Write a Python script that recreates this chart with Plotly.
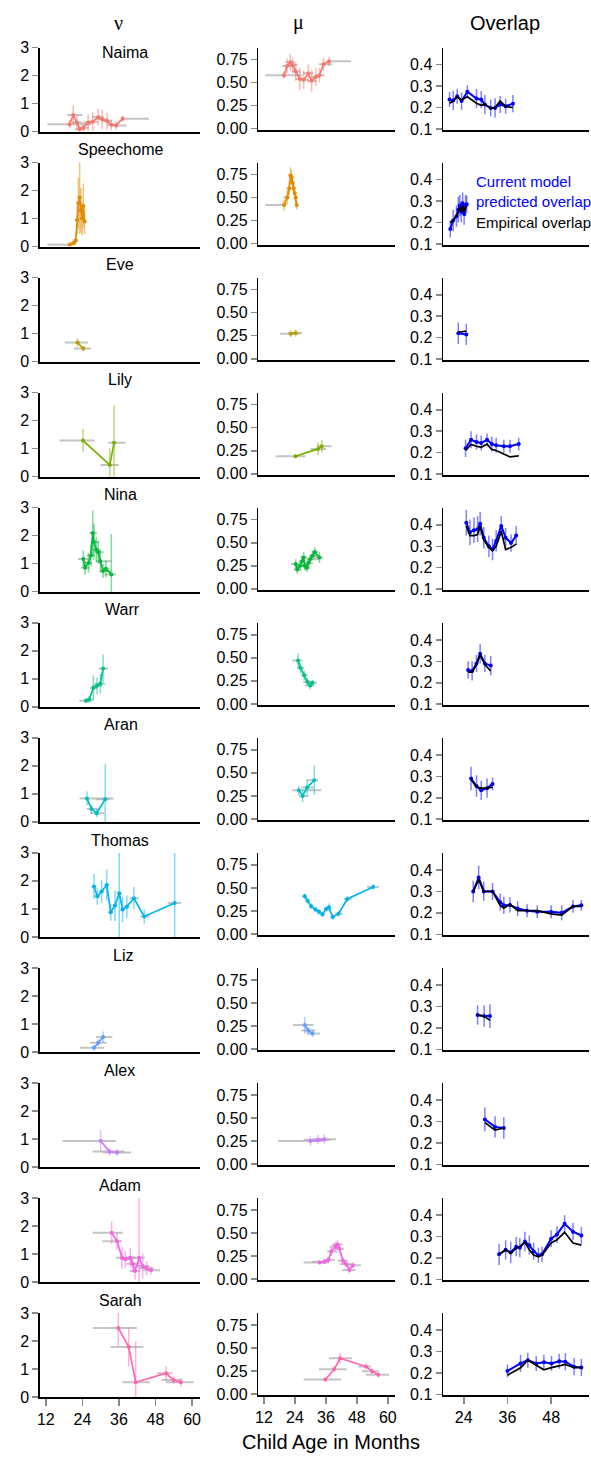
import plotly.graph_objects as go

# ---------------- data ----------------
children = ["Naima", "Speechome", "Eve", "Lily", "Nina", "Warr", "Aran",
            "Thomas", "Liz", "Alex", "Adam", "Sarah"]
colors = ["#F8766D", "#DE8C00", "#B79F00", "#7CAE00", "#00BA38", "#00C08B",
          "#00BFC4", "#00B4F0", "#619CFF", "#C77CFF", "#F564E3", "#FF64B0"]
name_x_px = [123, 118, 118, 118, 118, 120, 119, 118, 121, 117, 118, 118]

x_ticks_age = [12, 24, 36, 48, 60]
x_ticks_overlap = [24, 36, 48]
nu_ticks = [0, 1, 2, 3]
mu_ticks = [0, 0.25, 0.5, 0.75]
mu_ticktext = ["0.00", "0.25", "0.50", "0.75"]
ov_ticks = [0.1, 0.2, 0.3, 0.4]
col_titles = ["ν", "μ", "Overlap"]
x_title = "Child Age in Months"
legend_pred = "Current model<br>predicted overlap"
legend_emp = "Empirical overlap"

# Naima
naima_age = [19.8, 21.0, 22.2, 23.1, 24.3, 25.9, 27.4, 29.2, 30.5, 32.1, 33.5, 35.1, 37.2]
naima_lo = [12.5, 19.0, 20.5, 21.5, 22.8, 24.3, 25.8, 27.2, 28.8, 30.5, 32.0, 33.3, 37.2]
naima_hi = [26.8, 24.0, 24.0, 25.0, 26.0, 27.5, 29.0, 31.0, 32.5, 33.8, 35.5, 38.5, 45.8]
naima_nu = [0.26, 0.59, 0.32, 0.08, 0.14, 0.32, 0.35, 0.52, 0.44, 0.38, 0.24, 0.22, 0.46]
naima_nu_err = [0.15, 0.35, 0.25, 0.10, 0.15, 0.30, 0.35, 0.30, 0.35, 0.30, 0.20, 0.15, 0.10]
naima_mu = [0.58, 0.68, 0.72, 0.69, 0.62, 0.54, 0.53, 0.60, 0.52, 0.56, 0.58, 0.70, 0.73]
naima_mu_err = [0.04, 0.08, 0.09, 0.08, 0.10, 0.12, 0.10, 0.10, 0.12, 0.10, 0.08, 0.07, 0.05]
naima_ov_age = [20.1, 21.1, 22.2, 23.4, 25.0, 27.5, 28.8, 29.8, 31.4, 32.6, 34.0, 35.5, 37.5]
naima_ov_pred = [0.237, 0.233, 0.253, 0.230, 0.274, 0.242, 0.237, 0.214, 0.198, 0.198, 0.214, 0.206, 0.218]
naima_ov_err = [0.035, 0.045, 0.035, 0.040, 0.030, 0.045, 0.040, 0.045, 0.040, 0.045, 0.040, 0.035, 0.040]
naima_ov_emp = [0.220, 0.230, 0.250, 0.235, 0.250, 0.220, 0.210, 0.215, 0.195, 0.200, 0.230, 0.205, 0.200]

# Speechome
speech_age = [19.8, 21.0, 21.8, 22.3, 22.7, 23.1, 23.5, 23.9, 24.3, 24.7]
speech_lo = [12.5, 19.5, 20.8, 21.5, 22.0, 22.5, 22.9, 23.3, 23.7, 24.2]
speech_hi = [20.5, 22.0, 22.6, 23.0, 23.4, 23.7, 24.1, 24.5, 24.9, 25.3]
speech_nu = [0.07, 0.12, 0.22, 0.95, 1.55, 1.75, 1.30, 1.00, 1.45, 0.90]
speech_nu_err = [0.04, 0.08, 0.15, 0.50, 0.90, 1.30, 0.80, 0.60, 0.80, 0.45]
speech_mu = [0.42, 0.50, 0.60, 0.74, 0.72, 0.66, 0.60, 0.55, 0.50, 0.42]
speech_mu_err = [0.06, 0.08, 0.08, 0.09, 0.08, 0.08, 0.07, 0.07, 0.06, 0.05]
speech_ov_age = [20.3, 21.1, 22.0, 22.5, 22.9, 23.3, 23.7, 24.1, 24.5, 24.8]
speech_ov_pred = [0.17, 0.21, 0.23, 0.26, 0.28, 0.25, 0.29, 0.24, 0.28, 0.285]
speech_ov_err = [0.04, 0.05, 0.05, 0.06, 0.05, 0.05, 0.05, 0.05, 0.05, 0.04]
speech_ov_emp = [0.20, 0.21, 0.23, 0.25, 0.27, 0.25, 0.28, 0.25, 0.27, 0.28]

# Eve
eve_age = [22.4, 24.3]
eve_lo = [18.2, 21.2]
eve_hi = [25.9, 26.8]
eve_nu = [0.68, 0.47]
eve_nu_err = [0.15, 0.10]
eve_mu = [0.27, 0.28]
eve_mu_err = [0.04, 0.04]
eve_ov_age = [22.5, 24.7]
eve_ov_pred = [0.220, 0.215]
eve_ov_err = [0.05, 0.05]
eve_ov_emp = [0.225, 0.230]

# Lily
lily_age = [24.2, 33.0, 34.4]
lily_lo = [16.5, 30.0, 32.5]
lily_hi = [28.0, 36.0, 38.2]
lily_nu = [1.29, 0.42, 1.21]
lily_nu_err = [0.42, 0.60, 1.33]
lily_mu = [0.19, 0.27, 0.30]
lily_mu_err = [0.015, 0.07, 0.07]
lily_ov_age = [24.5, 26.0, 27.5, 28.8, 30.4, 31.7, 32.9, 35.0, 36.7, 39.1]
lily_ov_pred = [0.22, 0.26, 0.25, 0.245, 0.26, 0.24, 0.235, 0.23, 0.23, 0.24]
lily_ov_err = [0.04, 0.04, 0.035, 0.035, 0.03, 0.035, 0.035, 0.03, 0.03, 0.03]
lily_ov_emp = [0.21, 0.238, 0.23, 0.225, 0.24, 0.215, 0.21, 0.195, 0.18, 0.185]

# Nina
nina_age = [24.3, 24.9, 26.0, 26.8, 27.4, 27.8, 28.6, 29.2, 29.9, 30.8, 31.7, 33.5]
nina_lo = [22.5, 23.5, 24.8, 25.5, 26.2, 26.8, 27.5, 28.0, 28.5, 29.8, 30.5, 31.2]
nina_hi = [26.0, 26.5, 27.2, 28.0, 28.8, 29.5, 30.0, 31.0, 33.5, 33.5, 33.0, 35.0]
nina_nu = [1.17, 0.86, 1.03, 1.29, 2.10, 1.78, 1.50, 1.41, 1.09, 0.74, 0.82, 0.62]
nina_nu_err = [0.30, 0.25, 0.35, 0.40, 0.80, 0.65, 0.45, 0.40, 0.40, 0.25, 0.30, 1.45]
nina_mu = [0.27, 0.21, 0.25, 0.30, 0.34, 0.25, 0.23, 0.28, 0.32, 0.36, 0.40, 0.34]
nina_mu_err = [0.05, 0.05, 0.05, 0.06, 0.06, 0.05, 0.05, 0.05, 0.05, 0.05, 0.05, 0.06]
nina_ov_age = [24.7, 25.7, 26.8, 27.8, 28.5, 29.5, 30.9, 31.9, 32.9, 34.3, 35.5, 37.0, 38.4]
nina_ov_pred = [0.41, 0.365, 0.375, 0.38, 0.405, 0.34, 0.30, 0.285, 0.325, 0.395, 0.34, 0.315, 0.35]
nina_ov_err = [0.06, 0.06, 0.06, 0.06, 0.055, 0.05, 0.05, 0.05, 0.05, 0.045, 0.045, 0.04, 0.045]
nina_ov_emp = [0.395, 0.35, 0.35, 0.355, 0.395, 0.33, 0.295, 0.28, 0.30, 0.37, 0.285, 0.295, 0.31]

# Warr
warr_age = [25.2, 26.2, 27.6, 28.8, 29.9, 30.8]
warr_lo = [23.0, 24.8, 26.5, 27.2, 28.0, 29.3]
warr_hi = [27.0, 27.5, 29.0, 30.5, 31.5, 32.5]
warr_nu = [0.22, 0.26, 0.67, 0.75, 0.82, 1.37]
warr_nu_err = [0.08, 0.12, 0.45, 0.30, 0.35, 0.50]
warr_mu = [0.47, 0.39, 0.31, 0.24, 0.20, 0.23]
warr_mu_err = [0.08, 0.06, 0.05, 0.04, 0.04, 0.03]
warr_ov_age = [25.2, 26.3, 27.5, 28.5, 29.8, 31.4]
warr_ov_pred = [0.26, 0.255, 0.29, 0.335, 0.29, 0.28]
warr_ov_err = [0.04, 0.045, 0.04, 0.045, 0.04, 0.045]
warr_ov_emp = [0.25, 0.25, 0.285, 0.33, 0.285, 0.255]

# Aran
aran_age = [25.5, 27.0, 28.7, 31.5]
aran_lo = [23.1, 25.5, 26.5, 28.5]
aran_hi = [34.2, 29.3, 31.2, 33.0]
aran_nu = [0.83, 0.46, 0.31, 0.81]
aran_nu_err = [0.25, 0.15, 0.15, 1.25]
aran_mu = [0.31, 0.25, 0.34, 0.42]
aran_mu_err = [0.05, 0.07, 0.08, 0.16]
aran_ov_age = [26.0, 27.5, 28.8, 30.4, 31.9]
aran_ov_pred = [0.29, 0.255, 0.235, 0.245, 0.265]
aran_ov_err = [0.055, 0.05, 0.045, 0.045, 0.03]
aran_ov_emp = [0.285, 0.25, 0.245, 0.245, 0.25]

# Thomas
thomas_age = [27.8, 28.9, 30.3, 32.0, 33.3, 34.7, 36.1, 37.2, 38.6, 40.9, 44.3, 54.3]
thomas_lo = [27.0, 28.0, 29.5, 31.2, 32.5, 33.9, 35.3, 36.4, 37.8, 39.5, 43.0, 52.0]
thomas_hi = [28.6, 29.8, 31.1, 32.8, 34.1, 35.5, 36.9, 38.0, 39.4, 42.5, 46.0, 56.5]
thomas_nu = [1.80, 1.45, 1.62, 1.85, 0.88, 1.12, 1.56, 0.98, 1.08, 1.38, 0.73, 1.21]
thomas_nu_err = [0.45, 0.30, 0.40, 0.55, 0.30, 0.55, 3.00, 0.45, 0.40, 0.40, 0.25, 3.00]
thomas_mu = [0.41, 0.36, 0.30, 0.265, 0.24, 0.215, 0.27, 0.29, 0.185, 0.22, 0.38, 0.51]
thomas_mu_err = [0.03, 0.03, 0.03, 0.03, 0.03, 0.03, 0.03, 0.04, 0.03, 0.03, 0.03, 0.03]
thomas_ov_age = [26.6, 28.1, 29.5, 31.9, 34.0, 35.0, 36.7, 38.8, 41.4, 44.2, 48.0, 50.9, 54.0, 56.3]
thomas_ov_pred = [0.30, 0.365, 0.30, 0.30, 0.25, 0.235, 0.237, 0.22, 0.21, 0.205, 0.205, 0.20, 0.23, 0.235]
thomas_ov_err = [0.05, 0.055, 0.045, 0.04, 0.04, 0.04, 0.035, 0.035, 0.03, 0.03, 0.03, 0.035, 0.03, 0.025]
thomas_ov_emp = [0.30, 0.355, 0.30, 0.30, 0.235, 0.222, 0.24, 0.21, 0.21, 0.21, 0.195, 0.19, 0.23, 0.23]

# Liz
liz_age = [27.8, 29.2, 30.8]
liz_lo = [23.2, 26.5, 28.5]
liz_hi = [31.2, 32.0, 33.8]
liz_nu = [0.15, 0.33, 0.53]
liz_nu_err = [0.10, 0.12, 0.20]
liz_mu = [0.26, 0.20, 0.17]
liz_mu_err = [0.09, 0.04, 0.04]
liz_ov_age = [27.8, 29.6, 31.2]
liz_ov_pred = [0.26, 0.255, 0.255]
liz_ov_err = [0.045, 0.05, 0.055]
liz_ov_emp = [0.26, 0.255, 0.235]

# Alex
alex_age = [30.0, 32.9, 35.4]
alex_lo = [17.5, 27.4, 30.8]
alex_hi = [35.1, 37.8, 40.0]
alex_nu = [0.93, 0.55, 0.52]
alex_nu_err = [0.40, 0.15, 0.12]
alex_mu = [0.25, 0.265, 0.27]
alex_mu_err = [0.05, 0.05, 0.05]
alex_ov_age = [29.8, 32.6, 35.0]
alex_ov_pred = [0.31, 0.275, 0.27]
alex_ov_err = [0.055, 0.05, 0.05]
alex_ov_emp = [0.295, 0.26, 0.27]

# Adam
adam_age = [33.6, 35.4, 37.0, 38.1, 39.7, 40.5, 41.3, 42.6, 43.8, 45.1, 46.5]
adam_lo = [27.4, 30.5, 35.0, 36.5, 37.5, 38.5, 39.5, 40.5, 41.5, 42.5, 44.0]
adam_hi = [37.2, 37.0, 39.5, 40.5, 41.5, 42.5, 43.0, 44.5, 46.0, 47.5, 49.5]
adam_nu = [1.76, 1.46, 0.87, 0.81, 0.87, 0.65, 0.39, 0.87, 0.57, 0.49, 0.42]
adam_nu_err = [0.40, 0.30, 0.40, 0.30, 0.35, 0.30, 0.30, 3.00, 0.45, 0.25, 0.15]
adam_mu = [0.18, 0.19, 0.21, 0.30, 0.355, 0.375, 0.33, 0.20, 0.165, 0.10, 0.15]
adam_mu_err = [0.02, 0.02, 0.03, 0.05, 0.05, 0.05, 0.05, 0.04, 0.04, 0.04, 0.03]
adam_ov_age = [33.7, 35.5, 36.9, 38.4, 39.4, 40.8, 42.0, 43.2, 44.5, 45.5, 48.0, 49.6, 51.7, 54.0, 56.3]
adam_ov_pred = [0.217, 0.238, 0.226, 0.253, 0.248, 0.277, 0.26, 0.232, 0.213, 0.217, 0.29, 0.31, 0.36, 0.323, 0.305]
adam_ov_err = [0.05, 0.045, 0.05, 0.045, 0.045, 0.045, 0.045, 0.04, 0.035, 0.035, 0.04, 0.04, 0.04, 0.04, 0.04]
adam_ov_emp = [0.217, 0.238, 0.222, 0.245, 0.253, 0.274, 0.238, 0.214, 0.206, 0.214, 0.27, 0.285, 0.32, 0.27, 0.26]

# Sarah
sarah_age = [35.8, 39.2, 41.5, 51.5, 53.9, 56.3]
sarah_lo = [27.4, 33.3, 37.2, 48.5, 50.0, 51.5]
sarah_hi = [41.9, 44.0, 46.1, 53.5, 56.5, 60.5]
sarah_nu = [2.47, 1.79, 0.53, 0.85, 0.61, 0.53]
sarah_nu_err = [0.65, 0.70, 1.45, 0.25, 0.15, 0.15]
sarah_mu = [0.16, 0.27, 0.39, 0.30, 0.25, 0.21]
sarah_mu_err = [0.02, 0.03, 0.06, 0.03, 0.03, 0.03]
sarah_ov_age = [36.0, 39.6, 41.6, 43.9, 46.0, 48.1, 50.2, 51.9, 54.3, 56.3]
sarah_ov_pred = [0.21, 0.245, 0.26, 0.245, 0.25, 0.245, 0.255, 0.253, 0.23, 0.226]
sarah_ov_err = [0.03, 0.04, 0.035, 0.035, 0.035, 0.035, 0.035, 0.04, 0.04, 0.04]
sarah_ov_emp = [0.19, 0.225, 0.26, 0.235, 0.215, 0.225, 0.235, 0.24, 0.225, 0.225]

series = [
    (naima_age, naima_lo, naima_hi, naima_nu, naima_nu_err, naima_mu, naima_mu_err,
     naima_ov_age, naima_ov_pred, naima_ov_err, naima_ov_emp),
    (speech_age, speech_lo, speech_hi, speech_nu, speech_nu_err, speech_mu, speech_mu_err,
     speech_ov_age, speech_ov_pred, speech_ov_err, speech_ov_emp),
    (eve_age, eve_lo, eve_hi, eve_nu, eve_nu_err, eve_mu, eve_mu_err,
     eve_ov_age, eve_ov_pred, eve_ov_err, eve_ov_emp),
    (lily_age, lily_lo, lily_hi, lily_nu, lily_nu_err, lily_mu, lily_mu_err,
     lily_ov_age, lily_ov_pred, lily_ov_err, lily_ov_emp),
    (nina_age, nina_lo, nina_hi, nina_nu, nina_nu_err, nina_mu, nina_mu_err,
     nina_ov_age, nina_ov_pred, nina_ov_err, nina_ov_emp),
    (warr_age, warr_lo, warr_hi, warr_nu, warr_nu_err, warr_mu, warr_mu_err,
     warr_ov_age, warr_ov_pred, warr_ov_err, warr_ov_emp),
    (aran_age, aran_lo, aran_hi, aran_nu, aran_nu_err, aran_mu, aran_mu_err,
     aran_ov_age, aran_ov_pred, aran_ov_err, aran_ov_emp),
    (thomas_age, thomas_lo, thomas_hi, thomas_nu, thomas_nu_err, thomas_mu, thomas_mu_err,
     thomas_ov_age, thomas_ov_pred, thomas_ov_err, thomas_ov_emp),
    (liz_age, liz_lo, liz_hi, liz_nu, liz_nu_err, liz_mu, liz_mu_err,
     liz_ov_age, liz_ov_pred, liz_ov_err, liz_ov_emp),
    (alex_age, alex_lo, alex_hi, alex_nu, alex_nu_err, alex_mu, alex_mu_err,
     alex_ov_age, alex_ov_pred, alex_ov_err, alex_ov_emp),
    (adam_age, adam_lo, adam_hi, adam_nu, adam_nu_err, adam_mu, adam_mu_err,
     adam_ov_age, adam_ov_pred, adam_ov_err, adam_ov_emp),
    (sarah_age, sarah_lo, sarah_hi, sarah_nu, sarah_nu_err, sarah_mu, sarah_mu_err,
     sarah_ov_age, sarah_ov_pred, sarah_ov_err, sarah_ov_emp),
]

# ---------------- layout geometry ----------------
W, H = 591, 1465
FONT = "Liberation Sans, Arial, sans-serif"
TICK_FONT = 16
col_px = [(37, 198), (257, 395), (443, 590)]
col_xrange = [[10.0, 62.5], [9.8, 62.9], [18.3, 58.4]]
col_yrange = [[0, 3], [-0.01, 0.88], [0.097, 0.48]]
col_hpx = [85, 83, 83]
ROW0, PITCH = 40, 116.4
GRAY_TICK = "#8a8a8a"
BLUE = "#0000FF"


def rgba(hexc, a):
    h = hexc.lstrip("#")
    return "rgba(%d,%d,%d,%.2f)" % (int(h[0:2], 16), int(h[2:4], 16), int(h[4:6], 16), a)


fig = go.Figure()
layout = dict(
    width=W, height=H,
    margin=dict(l=0, r=0, t=0, b=0),
    paper_bgcolor="white", plot_bgcolor="white",
    showlegend=False,
    font=dict(family=FONT, color="black", size=TICK_FONT),
)
annotations = []
nrows = len(children)

for r, name in enumerate(children):
    (age, lo, hi, nu, nu_err, mu, mu_err, ov_age, ov_pred, ov_err, ov_emp) = series[r]
    col = colors[r]
    top = ROW0 + PITCH * r
    for c in range(3):
        idx = r * 3 + c + 1
        xname = "xaxis" if idx == 1 else "xaxis%d" % idx
        yname = "yaxis" if idx == 1 else "yaxis%d" % idx
        xref = "x" if idx == 1 else "x%d" % idx
        yref = "y" if idx == 1 else "y%d" % idx
        last = (r == nrows - 1)
        xd = [col_px[c][0] / W, col_px[c][1] / W]
        yd = [1 - (top + col_hpx[c]) / H, 1 - top / H]
        layout[xname] = dict(
            domain=xd, range=col_xrange[c], anchor=yref,
            showline=True, linecolor="black", linewidth=2,
            showgrid=False, zeroline=False,
            tickvals=x_ticks_overlap if c == 2 else x_ticks_age,
            ticks="outside" if last else "", ticklen=7, tickwidth=1.5,
            tickcolor=GRAY_TICK, showticklabels=last,
            tickfont=dict(size=TICK_FONT, family=FONT),
        )
        ydict = dict(
            domain=yd, range=col_yrange[c], anchor=xref,
            showline=True, linecolor="black", linewidth=1.5,
            showgrid=False, zeroline=False,
            ticks="outside", ticklen=6, tickwidth=1.5, tickcolor=GRAY_TICK,
            tickfont=dict(size=TICK_FONT, family=FONT),
        )
        if c == 0:
            ydict["tickvals"] = nu_ticks
        elif c == 1:
            ydict["tickvals"] = mu_ticks
            ydict["ticktext"] = mu_ticktext
        else:
            ydict["tickvals"] = ov_ticks
        layout[yname] = ydict

        if c < 2:
            vals = nu if c == 0 else mu
            errs = nu_err if c == 0 else mu_err
            # gray horizontal age-range bars
            fig.add_trace(go.Scatter(
                x=age, y=vals, xaxis=xref, yaxis=yref, mode="markers",
                marker=dict(size=1, opacity=0), hoverinfo="skip",
                error_x=dict(type="data", symmetric=False,
                             array=[h - a for h, a in zip(hi, age)],
                             arrayminus=[a - l for a, l in zip(age, lo)],
                             color="rgba(165,165,165,0.65)", thickness=2, width=0),
            ))
            fig.add_trace(go.Scatter(
                x=age, y=vals, xaxis=xref, yaxis=yref, mode="lines+markers",
                line=dict(color=col, width=1.7),
                marker=dict(color=col, size=4),
                error_y=dict(type="data", array=errs, color=rgba(col, 0.5),
                             thickness=1.5, width=0),
            ))
        else:
            fig.add_trace(go.Scatter(
                x=ov_age, y=ov_pred, xaxis=xref, yaxis=yref, mode="lines+markers",
                line=dict(color=BLUE, width=2), marker=dict(color=BLUE, size=4),
                error_y=dict(type="data", array=ov_err, color="rgba(0,0,255,0.5)",
                             thickness=1.5, width=0),
            ))
            fig.add_trace(go.Scatter(
                x=ov_age, y=ov_emp, xaxis=xref, yaxis=yref, mode="lines",
                line=dict(color="black", width=1.7),
            ))

    # child name above the first column
    ny = 45 if r == 0 else top - 13
    annotations.append(dict(
        text=name, x=name_x_px[r] / W, y=1 - ny / H, xref="paper", yref="paper",
        xanchor="center", yanchor="middle", showarrow=False,
        font=dict(size=16, family=FONT, color="black"),
    ))

# column titles
for txt, cx, fam in zip(col_titles, [116, 298, 505],
                        ["Liberation Serif, serif", "Liberation Serif, serif", FONT]):
    annotations.append(dict(
        text=txt, x=cx / W, y=1 - 15 / H, xref="paper", yref="paper",
        xanchor="center", yanchor="middle", showarrow=False,
        font=dict(size=20, family=fam, color="black"),
    ))

# legend text inside the Speechome overlap panel
annotations.append(dict(
    text=legend_pred, x=474 / W, y=1 - 186 / H, xref="paper", yref="paper",
    xanchor="left", yanchor="middle", align="left", showarrow=False,
    font=dict(size=15, family=FONT, color=BLUE),
))
annotations.append(dict(
    text=legend_emp, x=474 / W, y=1 - 217 / H, xref="paper", yref="paper",
    xanchor="left", yanchor="middle", align="left", showarrow=False,
    font=dict(size=15, family=FONT, color="black"),
))

# x axis title
annotations.append(dict(
    text=x_title, x=330 / W, y=1 - 1451 / H, xref="paper", yref="paper",
    xanchor="center", yanchor="middle", showarrow=False,
    font=dict(size=20, family=FONT, color="black"),
))

layout["annotations"] = annotations
fig.update_layout(**layout)
fig.write_html(
    "out.html",
    config={"displayModeBar": False, "staticPlot": True},
    post_script="document.body.style.margin='0';document.body.style.padding='0';"
                "document.documentElement.style.overflow='hidden';",
)
